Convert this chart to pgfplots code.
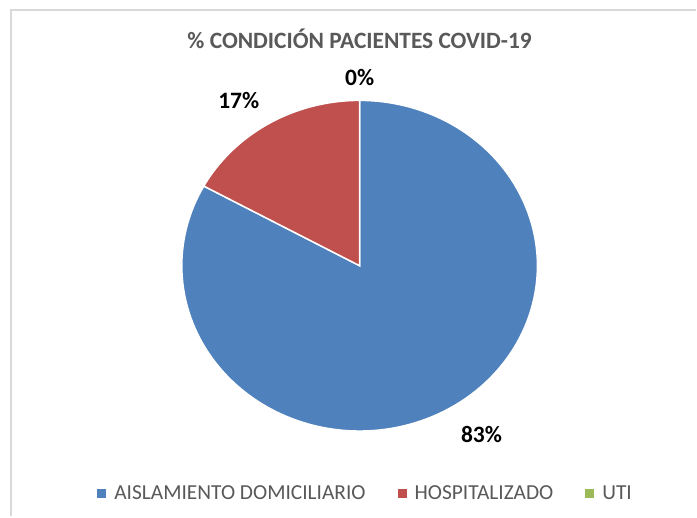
\documentclass[border=0pt]{standalone}
\usepackage{pgfplots}
\pgfplotsset{compat=1.18}
\usepackage{pgfplotstable}
\usepackage{fontspec}
\setmainfont{Carlito}
\definecolor{cblue}{HTML}{4F81BD}
\definecolor{cred}{HTML}{C0504D}
\definecolor{cgreen}{HTML}{9BBB59}
\definecolor{ctext}{HTML}{595959}
\definecolor{cborder}{HTML}{D9D9D9}
\pgfplotstableread{
cat value
AISLAMIENTO 83
HOSPITALIZADO 17
UTI 0
}\datatable
\pgfplotstablegetelem{0}{value}\of\datatable \let\va\pgfplotsretval
\pgfplotstablegetelem{1}{value}\of\datatable \let\vb\pgfplotsretval
\pgfplotstablegetelem{2}{value}\of\datatable \let\vc\pgfplotsretval
\pgfmathsetmacro\aStart{90-3.6*\va}
\pgfmathsetmacro\bEnd{90+3.6*\vb}
\begin{document}
\begin{tikzpicture}
\begin{axis}[
  scale only axis, width=697pt, height=517pt,
  xmin=0, xmax=697, ymin=0, ymax=517,
  hide axis, clip=false,
  legend columns=3,
  legend image code/.code={\fill[#1,draw=none] (0pt,-4.5pt) rectangle (9pt,4.5pt);},
  legend style={at={(365/697,23/517)}, anchor=center, draw=none, fill=none,
    font=\fontsize{21.4}{24}\selectfont, text=ctext,
    nodes={inner sep=0pt},
    /tikz/every odd column/.style={column sep=8pt},
    /tikz/every even column/.style={column sep=32pt}},
]
\fill[white] (0,0) rectangle (697,517);
\draw[cborder, line width=1.5pt] (11,0) |- (697,507);
\addplot[fill=cblue, draw=white, line width=1.5pt, domain=\aStart:90, samples=240, variable=\t]
  ({360+178*cos(t)},{251+165.5*sin(t)}) -- (360,251) -- cycle;
\addlegendentry{AISLAMIENTO DOMICILIARIO}
\addplot[fill=cred, draw=white, line width=1.5pt, domain=90:\bEnd, samples=80, variable=\t]
  ({360+178*cos(t)},{251+165.5*sin(t)}) -- (360,251) -- cycle;
\addlegendentry{HOSPITALIZADO}
\addlegendimage{fill=cgreen}
\addlegendentry{UTI}
\node[font=\bfseries\fontsize{23.4}{26}\selectfont, text=ctext] at (360,478) {\% CONDICIÓN PACIENTES COVID-19};
\node[font=\bfseries\fontsize{23.5}{26}\selectfont] at (360,439) {0\%};
\node[font=\bfseries\fontsize{23.5}{26}\selectfont] at (239,416) {17\%};
\node[font=\bfseries\fontsize{23.5}{26}\selectfont] at (482,82) {83\%};
\end{axis}
\end{tikzpicture}
\end{document}
